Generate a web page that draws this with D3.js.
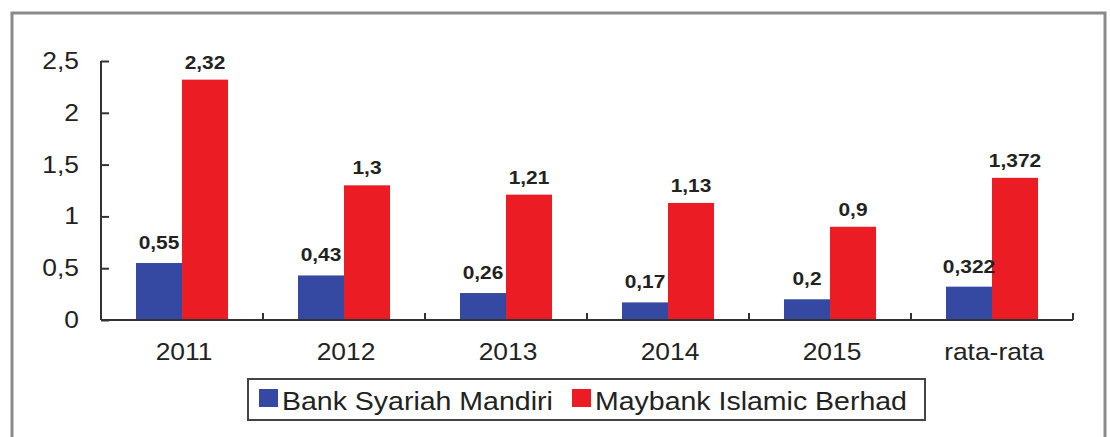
<!DOCTYPE html>
<html>
<head>
<meta charset="utf-8">
<script src="https://cdn.jsdelivr.net/npm/d3@7"></script>
<style>
  body { margin: 0; background: #fff; }
  svg { font-family: "Liberation Sans", Arial, sans-serif; }
</style>
</head>
<body>
<svg id="chart" width="1110" height="437"></svg>
<script>
let categories = ['2011', '2012', '2013', '2014', '2015', 'rata-rata'];
let seriesNames = ['Bank Syariah Mandiri', 'Maybank Islamic Berhad'];
let mandiri = [0.55, 0.43, 0.26, 0.17, 0.2, 0.322];
let maybank = [2.32, 1.3, 1.21, 1.13, 0.9, 1.372];
let yTicks = [0, 0.5, 1, 1.5, 2, 2.5];
let colors = ['#3548a2', '#ec1c24'];

let svg = d3.select('#chart');
let comma = function(v) { return String(v).replace('.', ','); };
// the source picture is a little wider than tall, so stretch text slightly
let stretch = 1.1;
let place = function(px, py, s) {
  return 'translate(' + px + ',' + py + ') scale(' + (s || stretch) + ',1)';
};

// outer frame
svg.append('rect')
  .attr('x', 12).attr('y', 13)
  .attr('width', 1093).attr('height', 440)
  .attr('fill', 'none')
  .attr('stroke', '#8a8a8a')
  .attr('stroke-width', 3);

let plotLeft = 101, plotRight = 1073, plotTop = 61, plotBottom = 320;

let x = d3.scaleBand().domain(categories).range([plotLeft, plotRight]);
let sub = d3.scaleBand().domain(seriesNames).range([0, 92]);
let y = d3.scaleLinear().domain([0, 2.5]).range([plotBottom, plotTop]);

let data = categories.map(function(c, i) {
  return { cat: c, vals: [mandiri[i], maybank[i]] };
});

let groups = svg.selectAll('g.grp').data(data).enter().append('g')
  .attr('class', 'grp')
  .attr('transform', function(d) { return 'translate(' + (x(d.cat) + x.bandwidth() / 2 - 46) + ',0)'; });

groups.selectAll('rect').data(function(d) { return d.vals; }).enter().append('rect')
  .attr('x', function(d, i) { return sub(seriesNames[i]); })
  .attr('width', sub.bandwidth())
  .attr('y', function(d) { return y(d); })
  .attr('height', function(d) { return plotBottom - y(d); })
  .attr('fill', function(d, i) { return colors[i]; });

let labelGap = [14, 11];
groups.selectAll('text').data(function(d) { return d.vals; }).enter().append('text')
  .attr('transform', function(d, i) {
    return place(sub(seriesNames[i]) + sub.bandwidth() / 2, y(d) - labelGap[i]);
  })
  .attr('text-anchor', 'middle')
  .attr('font-size', 19)
  .attr('font-weight', 'bold')
  .attr('fill', '#222')
  .text(function(d) { return comma(d); });

// y axis
let yAxis = svg.append('g')
  .attr('transform', 'translate(' + plotLeft + ',0)')
  .call(d3.axisRight(y).tickValues(yTicks).tickSize(8).tickFormat(''));
yAxis.select('.domain').attr('d', 'M0,' + plotTop + 'V' + plotBottom).attr('stroke', '#333').attr('stroke-width', 2);
yAxis.selectAll('.tick line').attr('stroke', '#333').attr('stroke-width', 2);

svg.append('g').selectAll('text').data(yTicks).enter().append('text')
  .attr('transform', function(d) { return place(79, y(d) + 8); })
  .attr('text-anchor', 'end')
  .attr('font-size', 24)
  .attr('fill', '#222')
  .text(function(d) { return comma(d); });

// x axis
let xAxis = svg.append('g')
  .attr('transform', 'translate(0,' + plotBottom + ')')
  .call(d3.axisBottom(x).tickSize(0).tickFormat(''));
xAxis.select('.domain').attr('d', 'M' + plotLeft + ',0H' + plotRight).attr('stroke', '#333').attr('stroke-width', 2);

svg.append('g').selectAll('line').data(categories).enter().append('line')
  .attr('x1', function(d) { return x(d) + x.bandwidth(); })
  .attr('x2', function(d) { return x(d) + x.bandwidth(); })
  .attr('y1', plotBottom).attr('y2', plotBottom - 7)
  .attr('stroke', '#333').attr('stroke-width', 2);

svg.append('g').selectAll('text').data(categories).enter().append('text')
  .attr('transform', function(d) { return place(x(d) + x.bandwidth() / 2 + 2, 360); })
  .attr('text-anchor', 'middle')
  .attr('font-size', 24)
  .attr('fill', '#222')
  .text(function(d) { return d; });

// legend
let legend = svg.append('g');
legend.append('rect')
  .attr('x', 248).attr('y', 379)
  .attr('width', 677).attr('height', 41)
  .attr('fill', '#fff')
  .attr('stroke', '#444')
  .attr('stroke-width', 2);

let legendX = [259, 572];
seriesNames.forEach(function(name, i) {
  legend.append('rect')
    .attr('x', legendX[i]).attr('y', 389)
    .attr('width', 19).attr('height', 18)
    .attr('fill', colors[i]);
  legend.append('text')
    .attr('transform', place(legendX[i] + 23, 410, 1.14))
    .attr('font-size', 25)
    .attr('fill', '#222')
    .text(name);
});
</script>
</body>
</html>
